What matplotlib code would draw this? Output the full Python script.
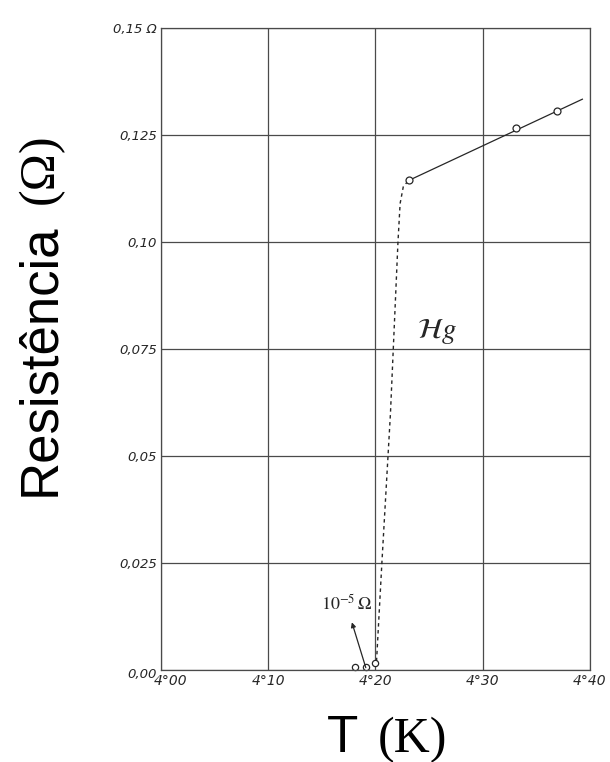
import numpy as np
import matplotlib.pyplot as plt
from matplotlib.transforms import ScaledTranslation

plt.rcParams['mathtext.fontset'] = 'stix'

# measured points (Onnes, Hg)
tempHigh = [4.231, 4.331, 4.369]
resHigh = [0.1144, 0.1266, 0.1307]
# solid line through the upper points
lineT = [4.231, 4.393]
lineR = [0.1144, 0.1334]
# dashed drop
dashT = [4.201, 4.206, 4.214, 4.221, 4.223, 4.226, 4.231]
dashR = [0.002, 0.025, 0.06, 0.100, 0.109, 0.113, 0.1144]
# points below transition
tempLow = [4.181, 4.191, 4.200]
resLow = [0.0006, 0.0006, 0.0016]

xTicks = [4.00, 4.10, 4.20, 4.30, 4.40]
xTickLabels = ['4°00', '4°10', '4°20', '4°30', '4°40']
yTicks = [0.0, 0.025, 0.05, 0.075, 0.10, 0.125, 0.15]
yTickLabels = ['0,00', '0,025', '0,05', '0,075', '0,10', '0,125', '0,15 Ω']

gridColor = '#4a4a4a'
inkColor = '#262626'

fig = plt.figure(figsize=(6.1, 7.62), dpi=100)
ax = fig.add_axes([0.264, 0.121, 0.703, 0.842])

ax.set_xlim(4.0, 4.4)
ax.set_ylim(0.0, 0.15)
ax.set_xticks(xTicks)
ax.set_yticks(yTicks)
ax.set_xticklabels(xTickLabels, fontsize=10, fontstyle='italic', color=inkColor)
ax.set_yticklabels(yTickLabels, fontsize=9.5, fontstyle='italic', color=inkColor)
ax.tick_params(length=0, pad=3)
ax.grid(True, color=gridColor, linewidth=0.9)
for spine in ax.spines.values():
    spine.set_color(gridColor)
    spine.set_linewidth(0.9)

# first x label sits to the right of the corner
firstLabel = ax.get_xticklabels()[0]
firstLabel.set_ha('left')
firstLabel.set_transform(firstLabel.get_transform()
                         + ScaledTranslation(-7 / 100, 0, fig.dpi_scale_trans))
# "0,00" sits a little low
zeroLabel = ax.get_yticklabels()[0]
zeroLabel.set_transform(zeroLabel.get_transform()
                        + ScaledTranslation(0, -3 / 100, fig.dpi_scale_trans))

ax.plot(lineT, lineR, color=inkColor, linewidth=0.9)
ax.plot(dashT, dashR, color=inkColor, linewidth=1.0, linestyle=(0, (2.5, 2.5)))
ax.plot(tempHigh, resHigh, 'o', markersize=5, markerfacecolor='white',
        markeredgecolor=inkColor, markeredgewidth=0.9)
ax.plot(tempLow, resLow, 'o', markersize=4.5, markerfacecolor='white',
        markeredgecolor=inkColor, markeredgewidth=0.9, clip_on=False)

ax.annotate('', xy=(4.178, 0.0111), xytext=(4.191, 0.0005),
            arrowprops=dict(arrowstyle='-|>', color=inkColor, linewidth=0.9,
                            mutation_scale=7, shrinkA=0, shrinkB=0))
ax.text(4.173, 0.0155, r'$10^{-5}\,\Omega$', fontsize=13, color=inkColor,
        ha='center', va='center')
ax.text(4.257, 0.079, r'$\mathcal{H}g$', fontsize=21, color=inkColor,
        ha='center', va='center')

# axis titles: sans words, serif units
fig.text(0.066, 1 - 496 / 762, 'Resistência', rotation=90, fontsize=38,
         family='Liberation Sans', ha='center', va='bottom')
fig.text(0.066, 1 - 133 / 762, '(Ω)', rotation=90, fontsize=36,
         family='Liberation Serif', ha='center', va='top')
fig.text(327 / 610, 1 - 752 / 762, 'T', fontsize=37,
         family='Liberation Sans', ha='left', va='baseline')
fig.text(447 / 610, 1 - 752 / 762, '(K)', fontsize=36,
         family='Liberation Serif', ha='right', va='baseline')

fig.savefig('out.png', dpi=100)
